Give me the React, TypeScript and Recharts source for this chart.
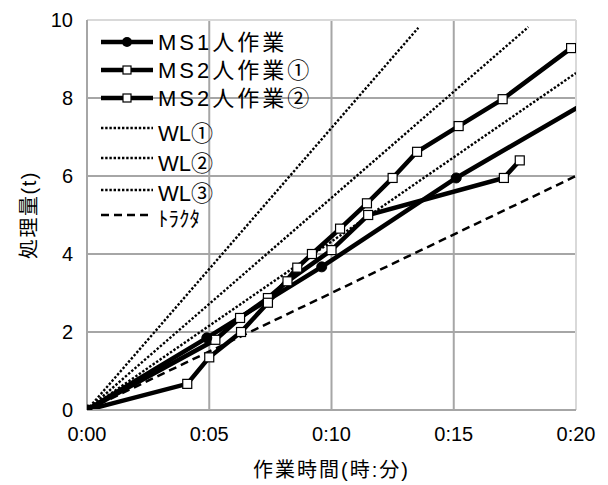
import React from "react";
import {
  CartesianGrid,
  ComposedChart,
  Line,
  ReferenceLine,
  XAxis,
  YAxis,
} from "recharts";

// 作業時間(分) と 処理量(t)
const MS1 = [
  { t: 0, v: 0 },
  { t: 4.9, v: 1.85 },
  { t: 9.6, v: 3.67 },
  { t: 15.1, v: 5.95 },
  { t: 21, v: 8.1 },
];
const MS2_1 = [
  { t: 0, v: 0 },
  { t: 4.1, v: 0.67 },
  { t: 5.0, v: 1.35 },
  { t: 6.3, v: 2.0 },
  { t: 7.4, v: 2.75 },
  { t: 8.6, v: 3.65 },
  { t: 9.2, v: 4.0 },
  { t: 10.35, v: 4.65 },
  { t: 11.45, v: 5.3 },
  { t: 12.5, v: 5.95 },
  { t: 13.5, v: 6.62 },
  { t: 15.2, v: 7.28 },
  { t: 17.0, v: 7.97 },
  { t: 19.8, v: 9.28 },
  { t: 20.6, v: 9.3 },
];
const MS2_2 = [
  { t: 0, v: 0 },
  { t: 5.25, v: 1.8 },
  { t: 6.26, v: 2.36 },
  { t: 7.4, v: 2.87 },
  { t: 8.2, v: 3.3 },
  { t: 10.0, v: 4.1 },
  { t: 11.5, v: 5.0 },
  { t: 17.05, v: 5.95 },
  { t: 17.7, v: 6.4 },
];
const WL1 = [
  { t: 0, v: 0 },
  { t: 13.55, v: 9.8 },
];
const WL2 = [
  { t: 0, v: 0 },
  { t: 18.05, v: 9.82 },
];
const WL3 = [
  { t: 0, v: 0 },
  { t: 20, v: 8.64 },
];
const TRACTOR = [
  { t: 0, v: 0 },
  { t: 20, v: 6.0 },
];

const X_TICKS = [0, 5, 10, 15, 20];
const Y_TICKS = [0, 2, 4, 6, 8, 10];

const GRID = "#a6a6a6";
const BORDER = "#d9d9d9";
const FONT = "'Liberation Sans', 'Noto Sans CJK JP', sans-serif";
const DOT = "2.4 1.8";
const DASH = "8 5";

const fmtTime = (m: number) => `0:${String(m).padStart(2, "0")}`;

function Square(props: any) {
  const { cx, cy, index } = props;
  if (cx == null || cy == null) return null;
  return (
    <rect
      key={`sq-${index}`}
      x={cx - 4.5}
      y={cy - 4.5}
      width={9}
      height={9}
      fill={index === 0 ? "#000" : "#fff"}
      stroke="#000"
      strokeWidth={1.2}
    />
  );
}

function Legend() {
  const x1 = 93;
  const x2 = 145;
  const tx = 150;
  const rows = [
    { y: 34, ty: 34, name: "MS1人作業", kind: "circle" },
    { y: 62, ty: 62, name: "MS2人作業①", kind: "square" },
    { y: 90, ty: 90, name: "MS2人作業②", kind: "square" },
    { y: 120, ty: 125, name: "WL①", kind: "dot" },
    { y: 150, ty: 155, name: "WL②", kind: "dot" },
    { y: 182, ty: 185, name: "WL③", kind: "dot" },
    { y: 207, ty: 210, name: "ﾄﾗｸﾀ", kind: "dash" },
  ];
  return (
    <svg
      width={600}
      height={477}
      style={{ position: "absolute", left: 0, top: 0, pointerEvents: "none" }}
    >
      {rows.map((r) => (
        <g key={r.name}>
          <line
            x1={x1}
            x2={x2}
            y1={r.y}
            y2={r.y}
            stroke="#000"
            strokeWidth={r.kind === "circle" || r.kind === "square" ? 4.5 : r.kind === "dash" ? 2.5 : 2.4}
            strokeDasharray={r.kind === "dot" ? DOT : r.kind === "dash" ? DASH : undefined}
          />
          {r.kind === "circle" && <circle cx={(x1 + x2) / 2} cy={r.y} r={5} fill="#000" />}
          {r.kind === "square" && (
            <rect
              x={(x1 + x2) / 2 - 4}
              y={r.y - 4}
              width={8}
              height={8}
              fill="#fff"
              stroke="#000"
              strokeWidth={1.2}
            />
          )}
          <text
            x={tx}
            y={r.ty}
            dominantBaseline="central"
            fontSize={r.kind === "dash" ? 21 : 22}
            letterSpacing={r.kind === "circle" || r.kind === "square" ? 3 : 0}
            fontFamily={FONT}
            fill="#000"
          >
            {r.name}
          </text>
        </g>
      ))}
    </svg>
  );
}

export default function App() {
  return (
    <div style={{ position: "relative", width: 600, height: 477, fontFamily: FONT }}>
      <ComposedChart
        width={600}
        height={477}
        margin={{ top: 12, right: 32, left: 0, bottom: 5 }}
      >
        <CartesianGrid
          stroke={GRID}
          strokeWidth={2}
          horizontalValues={[2, 4, 6, 8]}
          verticalValues={[5, 10, 15]}
        />
        <XAxis
          type="number"
          dataKey="t"
          domain={[0, 20]}
          ticks={X_TICKS}
          allowDataOverflow
          tickFormatter={fmtTime}
          tick={{ fontSize: 20, fill: "#000", fontFamily: FONT }}
          tickLine={false}
          tickSize={0}
          tickMargin={17}
          axisLine={{ stroke: GRID, strokeWidth: 2 }}
          height={70}
          label={{
            value: "作業時間(時:分)",
            position: "insideBottom",
            offset: 3,
            fill: "#000",
            style: { fontSize: 20, fill: "#000", fontFamily: FONT, letterSpacing: 2 },
          }}
        />
        <YAxis
          type="number"
          domain={[0, 10]}
          ticks={Y_TICKS}
          allowDataOverflow
          tick={{ fontSize: 20, fill: "#000", fontFamily: FONT }}
          tickLine={false}
          tickSize={0}
          tickMargin={14}
          axisLine={{ stroke: GRID, strokeWidth: 2 }}
          width={79}
          label={{
            value: "処理量(t)",
            angle: -90,
            position: "insideLeft",
            offset: 21,
            fill: "#000",
            style: { fontSize: 20, fill: "#000", fontFamily: FONT, textAnchor: "middle", letterSpacing: 1.5 },
          }}
        />
        <ReferenceLine y={10} stroke={BORDER} strokeWidth={2} />
        <ReferenceLine x={20} stroke={BORDER} strokeWidth={2} />
        <Line data={WL1} dataKey="v" type="linear" stroke="#000" strokeWidth={2.4} strokeDasharray={DOT} dot={false} isAnimationActive={false} />
        <Line data={WL2} dataKey="v" type="linear" stroke="#000" strokeWidth={2.4} strokeDasharray={DOT} dot={false} isAnimationActive={false} />
        <Line data={WL3} dataKey="v" type="linear" stroke="#000" strokeWidth={2.4} strokeDasharray={DOT} dot={false} isAnimationActive={false} />
        <Line data={TRACTOR} dataKey="v" type="linear" stroke="#000" strokeWidth={2.5} strokeDasharray={DASH} dot={false} isAnimationActive={false} />
        <Line data={MS2_2} dataKey="v" type="linear" stroke="#000" strokeWidth={4.5} dot={Square} isAnimationActive={false} />
        <Line data={MS2_1} dataKey="v" type="linear" stroke="#000" strokeWidth={4.5} dot={Square} isAnimationActive={false} />
        <Line data={MS1} dataKey="v" type="linear" stroke="#000" strokeWidth={4.5} dot={{ r: 5, fill: "#000", stroke: "#000", strokeWidth: 1 }} isAnimationActive={false} />
      </ComposedChart>
      <Legend />
    </div>
  );
}
